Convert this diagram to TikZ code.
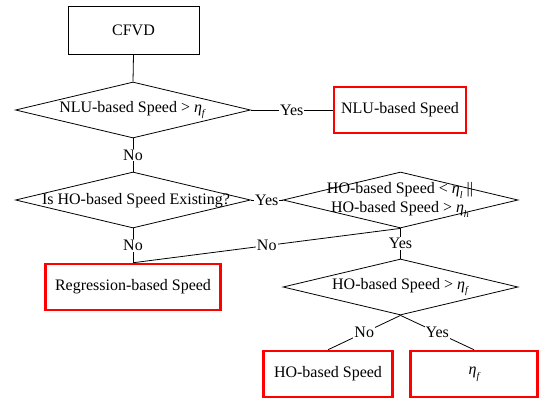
\documentclass[tikz,border=0pt]{standalone}
\usepackage{fontspec}
\setmainfont{Liberation Serif}
\usetikzlibrary{shapes.geometric}
\newcommand\myeta[1]{{\itshape η}\raisebox{-0.3em}{\fontsize{10}{11}\selectfont\itshape #1}}
\begin{document}
\begin{tikzpicture}[x=1pt,y=-1pt,
  every node/.style={font=\fontsize{16}{19}\selectfont},
  box/.style={draw=black,line width=0.8pt,minimum width=131pt,minimum height=48pt,inner sep=0pt},
  redbox/.style={draw=red,line width=2.5pt,inner sep=0pt},
  dia/.style={draw=black,line width=0.8pt,shape=diamond,minimum width=235pt,minimum height=56pt,inner sep=0pt},
  txt/.style={inner sep=0pt,align=center},
  lbl/.style={fill=white,inner sep=1pt},
  conn/.style={draw=black,line width=0.8pt}]
\useasboundingbox (0,0) rectangle (540,401);
\node[box] (cfvd) at (133.5,30) {CFVD};
\node[dia] (d1) at (133,110) {};
\node[txt] (d1t) at (132,110) {NLU-based Speed > \myeta{f}};
\node[redbox,minimum width=132pt,minimum height=46pt] (nlu) at (400,110) {NLU-based Speed};
\node[dia] (d2) at (133,200) {};
\node[txt] (d2t) at (136,201) {Is HO-based Speed Existing?};
\node[dia] (d3) at (400.5,200) {};
\node[txt] (d3t) at (400,200) {HO-based Speed < \myeta{l} ||\\HO-based Speed > \myeta{h}};
\node[redbox,minimum width=175pt,minimum height=46pt] (reg) at (133,287) {Regression-based Speed};
\node[dia] (d4) at (400.5,287) {};
\node[txt] (d4t) at (400,287) {HO-based Speed > \myeta{f}};
\node[redbox,minimum width=129pt,minimum height=46pt] (ho) at (328,374) {HO-based Speed};
\node[redbox,minimum width=127pt,minimum height=46pt] (ef) at (474,374) {\myeta{f}};
\draw[conn] (cfvd.south) -- (d1.north);
\draw[conn] (d1.east) -- node[lbl] {Yes} (nlu.west);
\draw[conn] (d1.south) -- node[lbl] {No} (d2.north);
\draw[conn] (d2.east) -- node[lbl] {Yes} (d3.west);
\draw[conn] (d2.south) -- node[lbl] {No} (reg.north);
\draw[conn] (d3.south) -- node[lbl] {No} (reg.north);
\draw[conn] (d3.south) -- node[lbl] {Yes} (d4.north);
\draw[conn] (d4.south) -- node[lbl] {No} (ho.north);
\draw[conn] (d4.south) -- node[lbl] {Yes} (ef.north);
\end{tikzpicture}
\end{document}
